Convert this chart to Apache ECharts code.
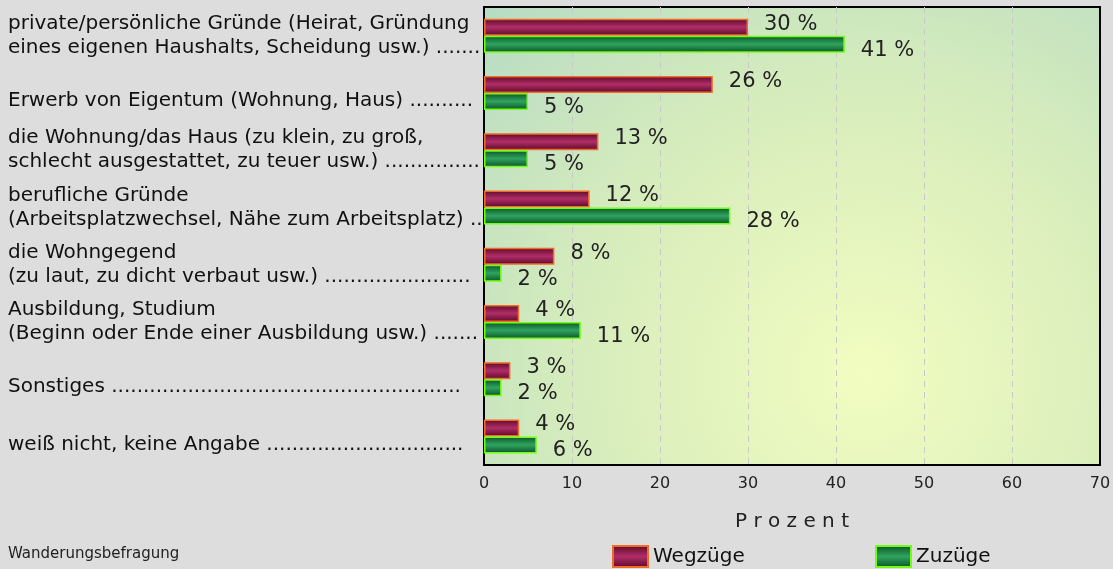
<!DOCTYPE html>
<html>
<head>
<meta charset="utf-8">
<script src="https://cdn.jsdelivr.net/npm/echarts@6/dist/echarts.min.js"></script>
<style>
  html, body { margin: 0; padding: 0; background: #dddddd; }
  #chart { width: 1113px; height: 569px; }
</style>
</head>
<body>
<div id="chart"></div>
<script>
// Gründe für Wegzüge / Zuzüge (Prozent)
const categories = [
  'private/persönliche Gründe (Heirat, Gründung\neines eigenen Haushalts, Scheidung usw.) .......',
  'Erwerb von Eigentum (Wohnung, Haus) ..........',
  'die Wohnung/das Haus (zu klein, zu groß,\nschlecht ausgestattet, zu teuer usw.) ...............',
  'berufliche Gründe\n(Arbeitsplatzwechsel, Nähe zum Arbeitsplatz) ..',
  'die Wohngegend\n(zu laut, zu dicht verbaut usw.) .......................',
  'Ausbildung, Studium\n(Beginn oder Ende einer Ausbildung usw.) .......',
  'Sonstiges .......................................................',
  'weiß nicht, keine Angabe ...............................'
];
const wegzuege = [30, 26, 13, 12, 8, 4, 3, 4];
const zuzuege = [41, 5, 5, 28, 2, 11, 2, 6];
const xTicks = [0, 10, 20, 30, 40, 50, 60, 70];

const FONT = '"DejaVu Sans", sans-serif';

const barGrad = (edge, mid) => new echarts.graphic.LinearGradient(0, 0, 0, 1, [
  { offset: 0, color: edge },
  { offset: 0.5, color: mid },
  { offset: 1, color: edge }
]);

// single-line labels sit lower, like the second line of the two-line ones
const yLabel = v => v.indexOf('\n') < 0
  ? '{gap| }\n{t|' + v + '}'
  : v.split('\n').map(s => '{t|' + s + '}').join('\n');

const legendCommon = {
  top: 540,
  itemWidth: 35,
  itemHeight: 21,
  icon: 'rect',
  textStyle: { fontSize: 20, color: '#111', fontFamily: FONT }
};

const chart = echarts.init(document.getElementById('chart'));
chart.setOption({
  backgroundColor: '#dddddd',
  animation: false,
  textStyle: { fontFamily: FONT },
  grid: {
    left: 484, right: 13, top: 7, bottom: 104,
    outerBoundsMode: 'none',
    containLabel: false,
    show: true,
    borderColor: '#000',
    borderWidth: 2,
    backgroundColor: {
      type: 'radial', x: 0.62, y: 0.8, r: 1.15,
      colorStops: [
        { offset: 0, color: '#f2fdc0' },
        { offset: 0.55, color: '#d6ecbc' },
        { offset: 1, color: '#b6dbc4' }
      ]
    }
  },
  xAxis: {
    type: 'value',
    min: xTicks[0],
    max: xTicks[xTicks.length - 1],
    interval: 10,
    name: 'P r o z e n t',
    nameLocation: 'middle',
    nameGap: 47,
    nameTextStyle: { fontSize: 20, color: '#222', fontFamily: FONT, verticalAlign: 'top' },
    axisLine: { show: false },
    axisTick: { show: false },
    axisLabel: { fontSize: 16, color: '#222', margin: 11 },
    splitLine: {
      show: true, showMinLine: false, showMaxLine: false,
      lineStyle: { color: '#c8c8c8', type: [6, 5], width: 1 }
    }
  },
  yAxis: {
    type: 'category',
    inverse: true,
    data: categories,
    axisLine: { show: true, lineStyle: { color: '#000', width: 2 } },
    axisTick: { show: false },
    axisLabel: {
      interval: 0, margin: 476, align: 'left',
      formatter: yLabel,
      rich: {
        t: { fontSize: 20, lineHeight: 24, color: '#111', fontFamily: FONT },
        gap: { fontSize: 1, lineHeight: 16 }
      }
    }
  },
  legend: [
    Object.assign({ left: 607, data: ['Wegzüge'] }, legendCommon),
    Object.assign({ left: 870, data: ['Zuzüge'] }, legendCommon)
  ],
  graphic: [{
    type: 'text', left: 8, top: 547,
    style: { text: 'Wanderungsbefragung', fontSize: 15, fill: '#222', fontFamily: FONT }
  }],
  series: [
    {
      name: 'Wegzüge',
      type: 'bar',
      data: wegzuege,
      barWidth: 17,
      barGap: '0%',
      itemStyle: { color: barGrad('#5c0826', '#b02e68'), borderColor: '#f06a28', borderWidth: 1.5 },
      label: {
        show: true, position: 'right', distance: 16, offset: [0, -3],
        formatter: '{c} %', fontSize: 21, color: '#222'
      }
    },
    {
      name: 'Zuzüge',
      type: 'bar',
      data: zuzuege,
      barWidth: 17,
      barGap: '0%',
      itemStyle: { color: barGrad('#0b5228', '#2fa45e'), borderColor: '#70ff10', borderWidth: 1.5 },
      label: {
        show: true, position: 'right', distance: 16, offset: [0, 6],
        formatter: '{c} %', fontSize: 21, color: '#222'
      }
    }
  ]
});
</script>
</body>
</html>
